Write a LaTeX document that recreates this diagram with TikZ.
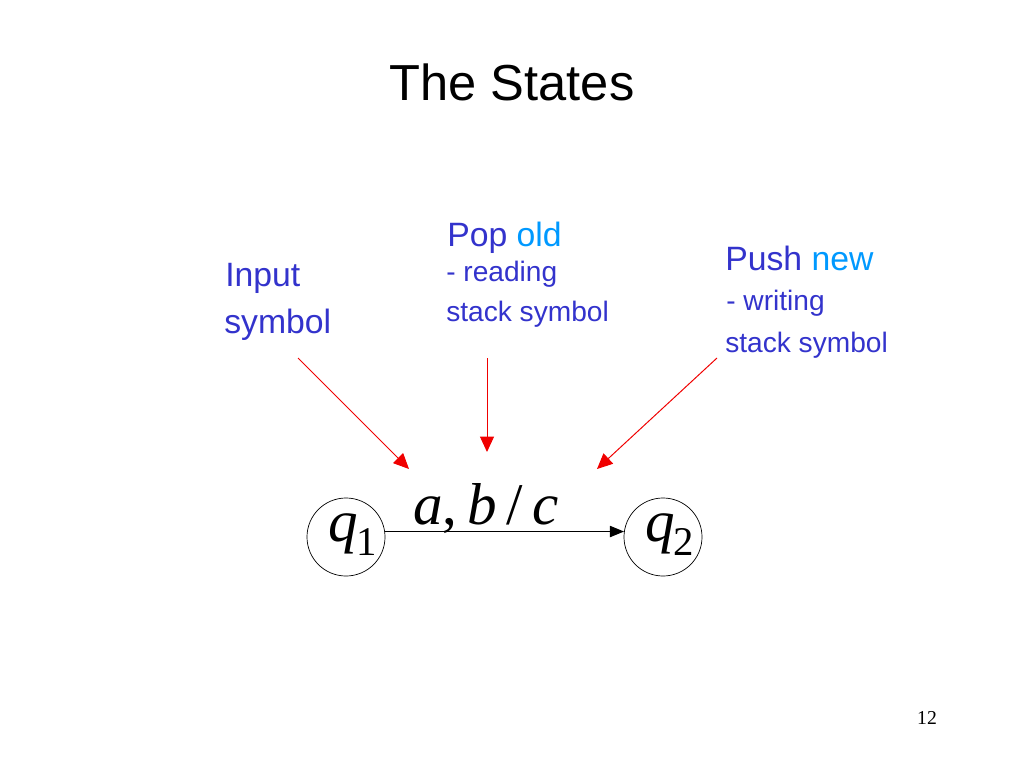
\documentclass[tikz,border=0pt]{standalone}
\usepackage{fontspec}
\setmainfont{Liberation Sans}
\newfontfamily\tnr{Liberation Serif}
\usetikzlibrary{arrows.meta}

\definecolor{txtblue}{RGB}{51,51,204}
\definecolor{lightblue}{RGB}{0,153,255}
\definecolor{ptred}{RGB}{240,0,0}

\tikzset{
	lbl/.style={anchor=base west, inner sep=0pt, text=txtblue},
	big/.style={font=\fontsize{24}{24}\selectfont},
	small/.style={font=\fontsize{20}{20}\selectfont},
	state/.style={draw, circle, line width=0.5pt, minimum size=1.95cm, inner sep=0pt},
	pointer/.style={ptred, line width=0.7pt, -{Triangle[length=11pt,width=10pt]}},
	edge/.style={black, line width=0.8pt, -{Triangle[length=10pt,width=8pt]}}
}
\newcommand{\stname}[2]{\smash{\raisebox{-3pt}{\tnr\fontsize{42}{42}\selectfont\textit{#1}\hspace{-1pt}\raisebox{-10pt}{\fontsize{29}{29}\selectfont #2}}}}

\begin{document}
\begin{tikzpicture}[x=0.025cm, y=-0.025cm]
	\useasboundingbox (0,0) rectangle (1024,768);

	% title and page number
	\node[font=\fontsize{36}{36}\selectfont] (title) at (512,82) {The States};
	\node[font=\tnr\fontsize{14}{14}\selectfont] (page) at (927,718) {12};

	% labels
	\node[lbl, big] (input) at (225,286) {Input};
	\node[lbl, big] (insym) at (224,333) {symbol};

	\node[lbl, big] (pop) at (447,246) {Pop \textcolor{lightblue}{old}};
	\node[lbl, small] (read) at (446,281) {- reading};
	\node[lbl, small] (popsym) at (446,321) {stack symbol};

	\node[lbl, big] (push) at (725,270) {Push \textcolor{lightblue}{new}};
	\node[lbl, small] (write) at (726,310) {- writing};
	\node[lbl, small] (pushsym) at (725,352) {stack symbol};

	% states
	\node[state] (q1) at (346,537) {\hspace{10pt}\stname{q}{1}};
	\node[state] (q2) at (663,537) {\hspace{10pt}\stname{q}{2}};
	\draw[edge] (q1.8) -- (q2.172);
	\node[anchor=base, inner sep=0pt, font=\tnr\fontsize{42}{42}\selectfont] (trans) at (486,524)
		{\textit{a},\,\textit{b}\,/\,\textit{c}};

	% pointers
	\coordinate (p1) at (298,358); \coordinate (t1) at (409,469);
	\coordinate (p2) at (487,358); \coordinate (t2) at (487,452);
	\coordinate (p3) at (717,358); \coordinate (t3) at (597,469);
	\draw[pointer] (p1) -- (t1);
	\draw[pointer] (p2) -- (t2);
	\draw[pointer] (p3) -- (t3);
\end{tikzpicture}
\end{document}
